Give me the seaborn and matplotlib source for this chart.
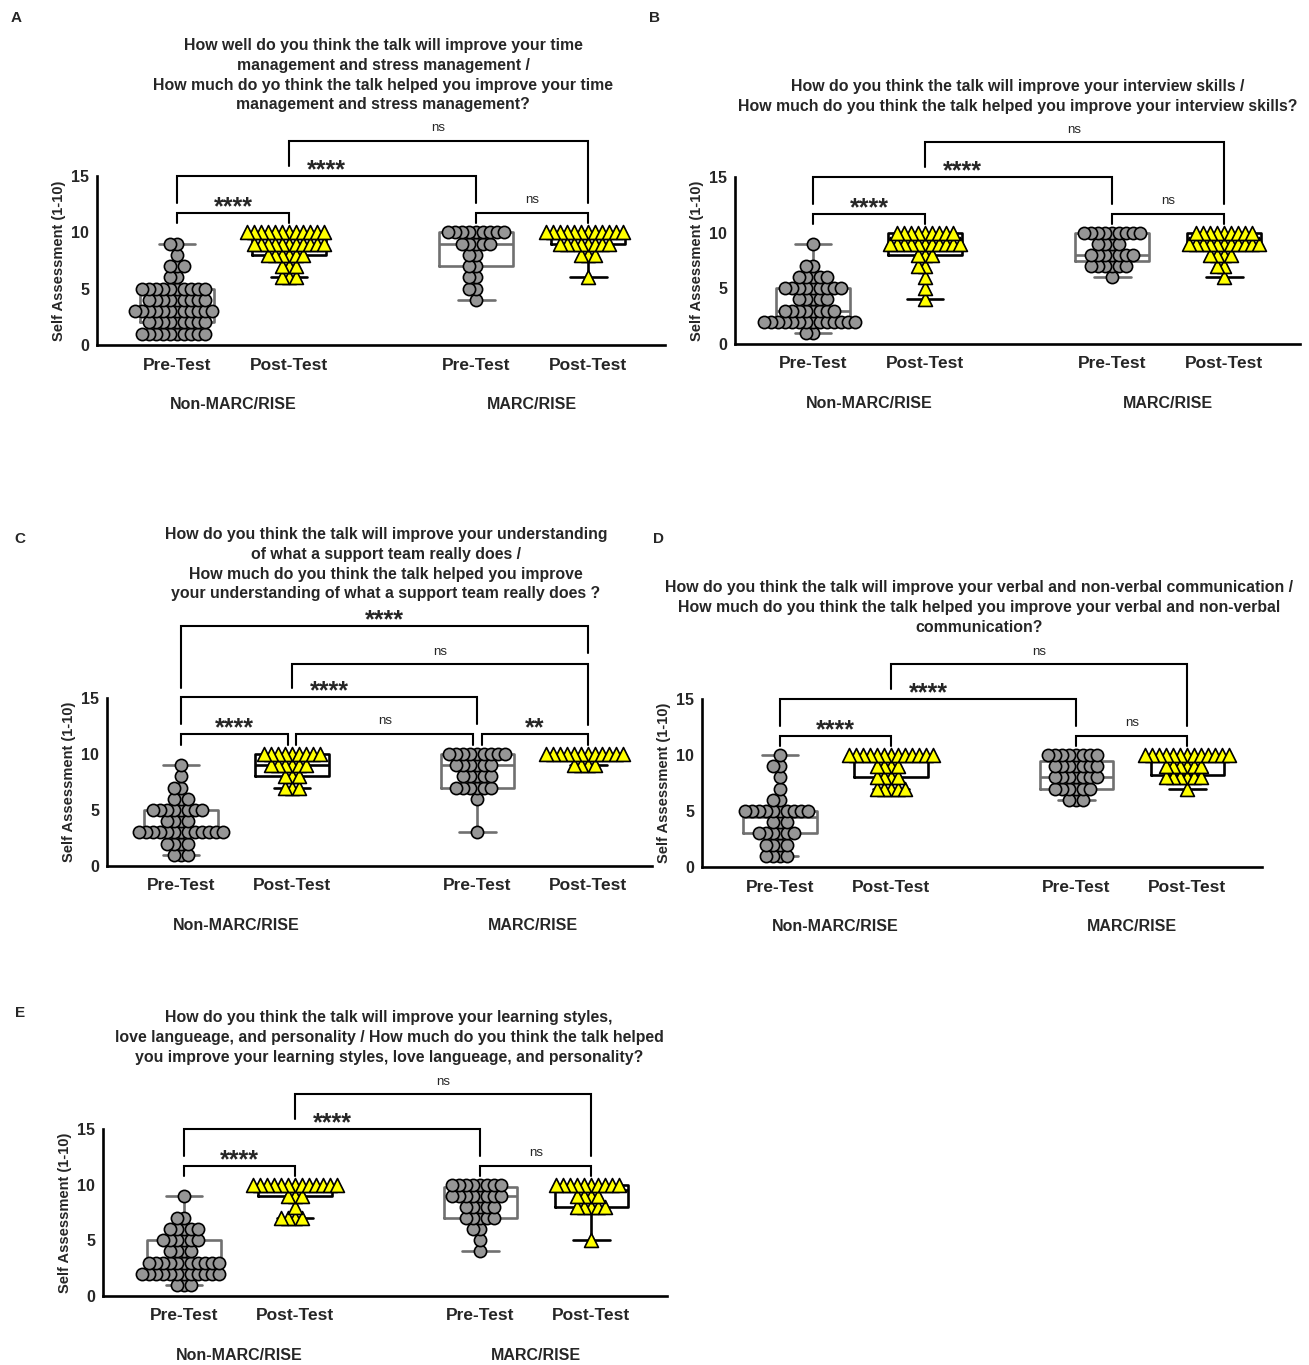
import matplotlib
matplotlib.use("Agg")
import matplotlib.pyplot as plt
import numpy as np
import pandas as pd
import seaborn as sns

W, H = 1309, 1365
SCORES = np.arange(1, 11)
POSITIONS = [0, 1, 2.67, 3.67]
PHASES = ["Pre", "Post", "Pre", "Post"]
TICK_LABELS = ["Pre-Test", "Post-Test", "Pre-Test", "Post-Test"]
GROUPS = ["Non-MARC/RISE", "MARC/RISE"]

# number of answers per score 1..10 (Non-MARC pre, Non-MARC post, MARC pre, MARC post)
a_counts = [
    [10, 9, 12, 9, 10, 2, 3, 1, 2, 0],
    [0, 0, 0, 0, 0, 3, 3, 6, 11, 12],
    [0, 0, 0, 1, 2, 2, 2, 2, 5, 9],
    [0, 0, 0, 0, 0, 1, 0, 3, 8, 12],
]
b_counts = [
    [2, 14, 8, 5, 9, 5, 2, 0, 1, 0],
    [0, 0, 0, 1, 1, 1, 2, 3, 11, 9],
    [0, 0, 0, 0, 0, 1, 6, 7, 4, 9],
    [0, 0, 0, 0, 0, 1, 2, 4, 11, 9],
]
c_counts = [
    [3, 4, 13, 4, 8, 3, 2, 1, 1, 0],
    [0, 0, 0, 0, 0, 0, 3, 3, 6, 9],
    [0, 0, 1, 0, 0, 1, 6, 5, 6, 9],
    [0, 0, 0, 0, 0, 0, 0, 0, 4, 12],
]
d_counts = [
    [4, 4, 6, 3, 10, 2, 1, 1, 2, 1],
    [0, 0, 0, 0, 0, 0, 5, 4, 4, 13],
    [0, 0, 0, 0, 0, 3, 6, 7, 7, 8],
    [0, 0, 0, 0, 0, 0, 1, 6, 6, 13],
]
e_counts = [
    [3, 12, 11, 4, 6, 5, 2, 0, 1, 0],
    [0, 0, 0, 0, 0, 0, 4, 1, 3, 13],
    [0, 0, 0, 1, 1, 2, 5, 5, 8, 8],
    [0, 0, 0, 0, 1, 0, 0, 5, 4, 10],
]

# significance brackets: (x1, x2, bar height, left leg end, right leg end, label)
basic_brackets = [
    (0, 1, 11.7, 10.8, 10.8, "****"),
    (2.67, 3.67, 11.7, 10.8, 10.8, "ns"),
    (0, 2.67, 15.0, 12.6, 12.6, "****"),
    (1, 3.67, 18.1, 15.9, 12.6, "ns"),
]
c_brackets = [
    (0, 0.96, 11.8, 10.8, 10.8, "****"),
    (1.04, 2.63, 11.8, 10.8, 10.8, "ns"),
    (2.71, 3.67, 11.8, 10.8, 10.8, "**"),
    (0, 2.67, 15.1, 12.7, 12.7, "****"),
    (1, 3.67, 18.0, 15.9, 12.6, "ns"),
    (0, 3.67, 21.4, 15.9, 19.0, "****"),
]

title_a = ("How well do you think the talk will improve your time\n"
           "management and stress management /\n"
           "How much do yo think the talk helped you improve your time\n"
           "management and stress management?")
title_b = ("How do you think the talk will improve your interview skills /\n"
           "How much do you think the talk helped you improve your interview skills?")
title_c = ("How do you think the talk will improve your understanding\n"
           "of what a support team really does /\n"
           "How much do you think the talk helped you improve\n"
           "your understanding of what a support team really does ?")
title_d = ("How do you think the talk will improve your verbal and non-verbal communication /\n"
           "How much do you think the talk helped you improve your verbal and non-verbal\n"
           "communication?")
title_e = ("How do you think the talk will improve your learning styles,\n"
           "love langueage, and personality / How much do you think the talk helped\n"
           "you improve your learning styles, love langueage, and personality?")

# pixel layout: axes left, right, y of 0, y of 15, first category x, title centre/top, letter pos
panels = [
    dict(letter="A", counts=a_counts, brackets=basic_brackets, title=title_a,
         left=97, right=665, y0=345, y15=176, first=177, unit=112,
         title_xy=(383, 38), letter_xy=(16, 18)),
    dict(letter="B", counts=b_counts, brackets=basic_brackets, title=title_b,
         left=735, right=1300, y0=344, y15=177, first=813, unit=112,
         title_xy=(1018, 79), letter_xy=(654, 18)),
    dict(letter="C", counts=c_counts, brackets=c_brackets, title=title_c,
         left=107, right=652, y0=866, y15=698, first=181, unit=111,
         title_xy=(386, 527), letter_xy=(20, 539)),
    dict(letter="D", counts=d_counts, brackets=basic_brackets, title=title_d,
         left=702, right=1262, y0=867, y15=699, first=780, unit=111,
         title_xy=(979, 580), letter_xy=(659, 539)),
    dict(letter="E", counts=e_counts, brackets=basic_brackets, title=title_e,
         left=103, right=667, y0=1296, y15=1129, first=184, unit=111,
         title_xy=(389, 1010), letter_xy=(20, 1013)),
]

sns.set_style("white")
plt.rcParams["font.family"] = ["Liberation Sans", "DejaVu Sans"]
plt.rcParams["font.weight"] = "bold"

fig = plt.figure(figsize=(W / 100, H / 100), dpi=100)
circles, triangles = [], []

for p in panels:
    ax = fig.add_axes([p["left"] / W, 1 - p["y0"] / H,
                       (p["right"] - p["left"]) / W, (p["y0"] - p["y15"]) / H])

    rows = []
    for pos, phase, cnt in zip(POSITIONS, PHASES, p["counts"]):
        for score, n in zip(SCORES, cnt):
            rows += [(pos, phase, score)] * n
    df = pd.DataFrame(rows, columns=["pos", "phase", "score"])

    sns.boxplot(data=df, x="pos", y="score", hue="phase", hue_order=["Pre", "Post"],
                palette={"Pre": "#707070", "Post": "black"}, native_scale=True,
                fill=False, dodge=False, width=0.66, whis=(0, 100), linewidth=1.9,
                showfliers=False, legend=False, ax=ax)

    n_before = len(ax.collections)
    sns.swarmplot(data=df[df.phase == "Pre"], x="pos", y="score", orient="x",
                  native_scale=True, color="#969696", marker="o", size=3.6,
                  edgecolor="black", linewidth=1.2, zorder=3, ax=ax)
    circles += ax.collections[n_before:]
    n_before = len(ax.collections)
    sns.swarmplot(data=df[df.phase == "Post"], x="pos", y="score", orient="x",
                  native_scale=True, color="#ffff00", marker="^", size=3.6,
                  edgecolor="black", linewidth=1.2, zorder=3, ax=ax)
    triangles += ax.collections[n_before:]

    for x1, x2, top, lb, rb, label in p["brackets"]:
        ax.plot([x1, x1, x2, x2], [lb, top, top, rb], color="black", lw=1.5,
                clip_on=False, solid_joinstyle="miter")
        if label == "ns":
            ax.text((x1 + x2) / 2, top + 0.6, label, ha="center", va="bottom",
                    fontsize=9.5, fontweight="normal")
        else:
            ax.text((x1 + x2) / 2, top - 0.1, label, ha="center", va="baseline",
                    fontsize=18, fontweight="bold")

    xmin = (p["left"] - p["first"]) / p["unit"]
    xmax = (p["right"] - p["first"]) / p["unit"]
    ax.set_xlim(xmin, xmax)
    ax.set_ylim(0, 15)
    ax.set_yticks([0, 5, 10, 15])
    ax.set_xticks(POSITIONS, TICK_LABELS)
    ax.set_xlabel("")
    ax.set_ylabel("Self Assessment (1-10)", fontsize=10.5, fontweight="bold", labelpad=4)
    for side in ["top", "right"]:
        ax.spines[side].set_visible(False)
    for side in ["left", "bottom"]:
        ax.spines[side].set_linewidth(1.9)
        ax.spines[side].set_color("black")
    ax.tick_params(axis="x", length=7, width=1.9, pad=2, labelsize=12.5, color="black")
    ax.tick_params(axis="y", length=4.5, width=1.9, pad=1, labelsize=11.5, color="black")
    for lab in ax.get_xticklabels() + ax.get_yticklabels():
        lab.set_fontweight("bold")

    for gx, name in zip([(POSITIONS[0] + POSITIONS[1]) / 2, (POSITIONS[2] + POSITIONS[3]) / 2], GROUPS):
        ax.annotate(name, xy=(gx, 0), xycoords="data", xytext=(0, -43),
                    textcoords="offset points", ha="center", va="center",
                    fontsize=11.5, fontweight="bold")

    tx, ty = p["title_xy"]
    fig.text(tx / W, 1 - ty / H, p["title"], ha="center", va="top", fontsize=11.4,
             fontweight="bold", linespacing=1.4)
    lx, ly = p["letter_xy"]
    fig.text(lx / W, 1 - ly / H, p["letter"], ha="center", va="center",
             fontsize=11, fontweight="bold")

# lay the swarms out with small markers, then draw the markers larger so they overlap
fig.canvas.draw()
for coll in circles + triangles:
    if "draw" in coll.__dict__:
        del coll.draw
for coll in circles:
    coll.set_sizes([8.8 ** 2])
for coll in triangles:
    coll.set_sizes([10.0 ** 2])

fig.savefig("out.png", dpi=100)
